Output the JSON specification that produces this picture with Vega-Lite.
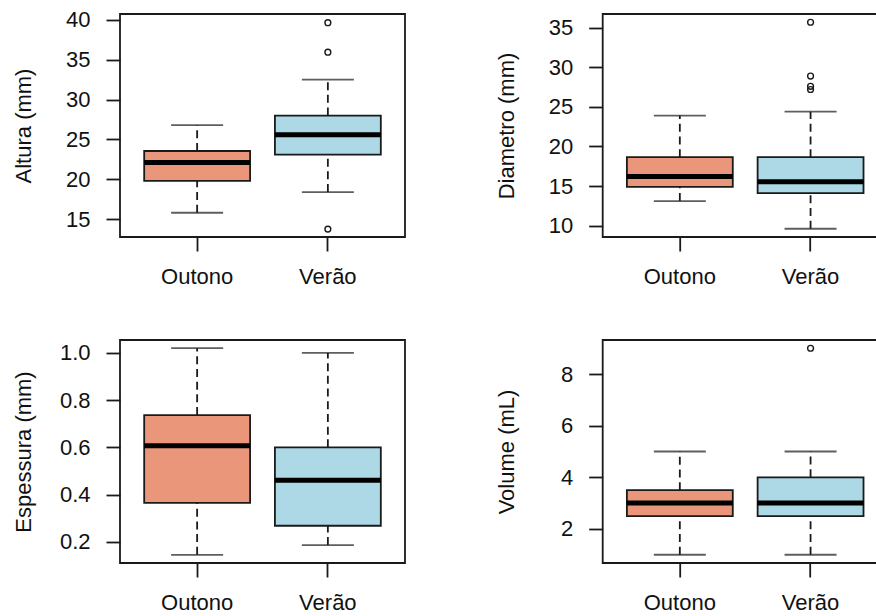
{
  "$schema": "https://vega.github.io/schema/vega-lite/v6.json",
  "padding": {"left": 11, "top": 7, "right": 5, "bottom": 0},
  "background": "white",
  "datasets": {
    "caixas": [
      {"variavel": "Altura", "estacao": "Outono", "inferior": 15.8, "q1": 19.8, "mediana": 22.1, "q3": 23.55, "superior": 26.8},
      {"variavel": "Altura", "estacao": "Verão", "inferior": 18.4, "q1": 23.1, "mediana": 25.6, "q3": 28.0, "superior": 32.5},
      {"variavel": "Diametro", "estacao": "Outono", "inferior": 13.1, "q1": 14.9, "mediana": 16.2, "q3": 18.65, "superior": 23.9},
      {"variavel": "Diametro", "estacao": "Verão", "inferior": 9.6, "q1": 14.1, "mediana": 15.55, "q3": 18.65, "superior": 24.4},
      {"variavel": "Espessura", "estacao": "Outono", "inferior": 0.145, "q1": 0.365, "mediana": 0.607, "q3": 0.737, "superior": 1.02},
      {"variavel": "Espessura", "estacao": "Verão", "inferior": 0.186, "q1": 0.268, "mediana": 0.461, "q3": 0.6, "superior": 1.0},
      {"variavel": "Volume", "estacao": "Outono", "inferior": 1, "q1": 2.5, "mediana": 3, "q3": 3.5, "superior": 5},
      {"variavel": "Volume", "estacao": "Verão", "inferior": 1, "q1": 2.5, "mediana": 3, "q3": 4, "superior": 5}
    ],
    "atipicos": [
      {"variavel": "Altura", "estacao": "Verão", "valor": 39.65},
      {"variavel": "Altura", "estacao": "Verão", "valor": 35.95},
      {"variavel": "Altura", "estacao": "Verão", "valor": 13.75},
      {"variavel": "Diametro", "estacao": "Verão", "valor": 35.7},
      {"variavel": "Diametro", "estacao": "Verão", "valor": 28.9},
      {"variavel": "Diametro", "estacao": "Verão", "valor": 27.6},
      {"variavel": "Diametro", "estacao": "Verão", "valor": 27.2},
      {"variavel": "Volume", "estacao": "Verão", "valor": 9}
    ]
  },
  "columns": 2,
  "spacing": {"row": 103, "column": 197.7},
  "bounds": "flush",
  "concat": [
    {
      "width": 285, "height": 223,
      "encoding": {
        "x": {"field": "estacao", "type": "nominal", "sort": ["Outono", "Verão"], "scale": {"type": "band", "paddingInner": 0.19, "paddingOuter": 0.185}},
        "color": {"field": "estacao", "type": "nominal", "legend": null, "scale": {"domain": ["Outono", "Verão"], "range": ["#E9967A", "#ADD8E6"]}}
      },
      "layer": [
        {"data": {"name": "caixas"}, "transform": [{"filter": "datum.variavel === 'Altura'"}],
         "mark": {"type": "rule", "strokeWidth": 1.8, "strokeDash": [8, 4.7]},
         "encoding": {"y": {"field": "q3", "type": "quantitative", "title": "Altura (mm)", "scale": {"domain": [12.76, 40.74], "nice": false, "zero": false}, "axis": {"values": [15, 20, 25, 30, 35, 40]}}, "y2": {"field": "superior"}, "color": {"value": "#1a1a1a"}}},
        {"data": {"name": "caixas"}, "transform": [{"filter": "datum.variavel === 'Altura'"}],
         "mark": {"type": "rule", "strokeWidth": 1.8, "strokeDash": [8, 4.7]},
         "encoding": {"y": {"field": "inferior", "type": "quantitative"}, "y2": {"field": "q1"}, "color": {"value": "#1a1a1a"}}},
        {"data": {"name": "caixas"}, "transform": [{"filter": "datum.variavel === 'Altura'"}],
         "mark": {"type": "tick", "size": 52, "thickness": 1.8},
         "encoding": {"y": {"field": "superior", "type": "quantitative"}, "color": {"value": "#1a1a1a"}}},
        {"data": {"name": "caixas"}, "transform": [{"filter": "datum.variavel === 'Altura'"}],
         "mark": {"type": "tick", "size": 52, "thickness": 1.8},
         "encoding": {"y": {"field": "inferior", "type": "quantitative"}, "color": {"value": "#1a1a1a"}}},
        {"data": {"name": "caixas"}, "transform": [{"filter": "datum.variavel === 'Altura'"}],
         "mark": {"type": "bar", "stroke": "#1a1a1a", "strokeWidth": 1.8, "opacity": 1},
         "encoding": {"y": {"field": "q1", "type": "quantitative"}, "y2": {"field": "q3"}}},
        {"data": {"name": "caixas"}, "transform": [{"filter": "datum.variavel === 'Altura'"}],
         "mark": {"type": "tick", "size": 106, "thickness": 5, "opacity": 1},
         "encoding": {"y": {"field": "mediana", "type": "quantitative"}, "color": {"value": "black"}}},
        {"data": {"name": "atipicos"}, "transform": [{"filter": "datum.variavel === 'Altura'"}],
         "mark": {"type": "point", "shape": "circle", "filled": false, "size": 34, "strokeWidth": 1.4, "opacity": 1},
         "encoding": {"y": {"field": "valor", "type": "quantitative"}, "color": {"value": "#1a1a1a"}}}
      ]
    },
    {
      "width": 285, "height": 223,
      "encoding": {
        "x": {"field": "estacao", "type": "nominal", "sort": ["Outono", "Verão"], "scale": {"type": "band", "paddingInner": 0.19, "paddingOuter": 0.185}},
        "color": {"field": "estacao", "type": "nominal", "legend": null, "scale": {"domain": ["Outono", "Verão"], "range": ["#E9967A", "#ADD8E6"]}}
      },
      "layer": [
        {"data": {"name": "caixas"}, "transform": [{"filter": "datum.variavel === 'Diametro'"}],
         "mark": {"type": "rule", "strokeWidth": 1.8, "strokeDash": [8, 4.7]},
         "encoding": {"y": {"field": "q3", "type": "quantitative", "title": "Diametro (mm)", "scale": {"domain": [8.556, 36.744], "nice": false, "zero": false}, "axis": {"values": [10, 15, 20, 25, 30, 35]}}, "y2": {"field": "superior"}, "color": {"value": "#1a1a1a"}}},
        {"data": {"name": "caixas"}, "transform": [{"filter": "datum.variavel === 'Diametro'"}],
         "mark": {"type": "rule", "strokeWidth": 1.8, "strokeDash": [8, 4.7]},
         "encoding": {"y": {"field": "inferior", "type": "quantitative"}, "y2": {"field": "q1"}, "color": {"value": "#1a1a1a"}}},
        {"data": {"name": "caixas"}, "transform": [{"filter": "datum.variavel === 'Diametro'"}],
         "mark": {"type": "tick", "size": 52, "thickness": 1.8},
         "encoding": {"y": {"field": "superior", "type": "quantitative"}, "color": {"value": "#1a1a1a"}}},
        {"data": {"name": "caixas"}, "transform": [{"filter": "datum.variavel === 'Diametro'"}],
         "mark": {"type": "tick", "size": 52, "thickness": 1.8},
         "encoding": {"y": {"field": "inferior", "type": "quantitative"}, "color": {"value": "#1a1a1a"}}},
        {"data": {"name": "caixas"}, "transform": [{"filter": "datum.variavel === 'Diametro'"}],
         "mark": {"type": "bar", "stroke": "#1a1a1a", "strokeWidth": 1.8, "opacity": 1},
         "encoding": {"y": {"field": "q1", "type": "quantitative"}, "y2": {"field": "q3"}}},
        {"data": {"name": "caixas"}, "transform": [{"filter": "datum.variavel === 'Diametro'"}],
         "mark": {"type": "tick", "size": 106, "thickness": 5, "opacity": 1},
         "encoding": {"y": {"field": "mediana", "type": "quantitative"}, "color": {"value": "black"}}},
        {"data": {"name": "atipicos"}, "transform": [{"filter": "datum.variavel === 'Diametro'"}],
         "mark": {"type": "point", "shape": "circle", "filled": false, "size": 34, "strokeWidth": 1.4, "opacity": 1},
         "encoding": {"y": {"field": "valor", "type": "quantitative"}, "color": {"value": "#1a1a1a"}}}
      ]
    },
    {
      "width": 285, "height": 223,
      "encoding": {
        "x": {"field": "estacao", "type": "nominal", "sort": ["Outono", "Verão"], "scale": {"type": "band", "paddingInner": 0.19, "paddingOuter": 0.185}},
        "color": {"field": "estacao", "type": "nominal", "legend": null, "scale": {"domain": ["Outono", "Verão"], "range": ["#E9967A", "#ADD8E6"]}}
      },
      "layer": [
        {"data": {"name": "caixas"}, "transform": [{"filter": "datum.variavel === 'Espessura'"}],
         "mark": {"type": "rule", "strokeWidth": 1.8, "strokeDash": [8, 4.7]},
         "encoding": {"y": {"field": "q3", "type": "quantitative", "title": "Espessura (mm)", "scale": {"domain": [0.1102, 1.0548], "nice": false, "zero": false}, "axis": {"values": [0.2, 0.4, 0.6, 0.8, 1.0], "format": ".1f"}}, "y2": {"field": "superior"}, "color": {"value": "#1a1a1a"}}},
        {"data": {"name": "caixas"}, "transform": [{"filter": "datum.variavel === 'Espessura'"}],
         "mark": {"type": "rule", "strokeWidth": 1.8, "strokeDash": [8, 4.7]},
         "encoding": {"y": {"field": "inferior", "type": "quantitative"}, "y2": {"field": "q1"}, "color": {"value": "#1a1a1a"}}},
        {"data": {"name": "caixas"}, "transform": [{"filter": "datum.variavel === 'Espessura'"}],
         "mark": {"type": "tick", "size": 52, "thickness": 1.8},
         "encoding": {"y": {"field": "superior", "type": "quantitative"}, "color": {"value": "#1a1a1a"}}},
        {"data": {"name": "caixas"}, "transform": [{"filter": "datum.variavel === 'Espessura'"}],
         "mark": {"type": "tick", "size": 52, "thickness": 1.8},
         "encoding": {"y": {"field": "inferior", "type": "quantitative"}, "color": {"value": "#1a1a1a"}}},
        {"data": {"name": "caixas"}, "transform": [{"filter": "datum.variavel === 'Espessura'"}],
         "mark": {"type": "bar", "stroke": "#1a1a1a", "strokeWidth": 1.8, "opacity": 1},
         "encoding": {"y": {"field": "q1", "type": "quantitative"}, "y2": {"field": "q3"}}},
        {"data": {"name": "caixas"}, "transform": [{"filter": "datum.variavel === 'Espessura'"}],
         "mark": {"type": "tick", "size": 106, "thickness": 5, "opacity": 1},
         "encoding": {"y": {"field": "mediana", "type": "quantitative"}, "color": {"value": "black"}}}
      ]
    },
    {
      "width": 285, "height": 223,
      "encoding": {
        "x": {"field": "estacao", "type": "nominal", "sort": ["Outono", "Verão"], "scale": {"type": "band", "paddingInner": 0.19, "paddingOuter": 0.185}},
        "color": {"field": "estacao", "type": "nominal", "legend": null, "scale": {"domain": ["Outono", "Verão"], "range": ["#E9967A", "#ADD8E6"]}}
      },
      "layer": [
        {"data": {"name": "caixas"}, "transform": [{"filter": "datum.variavel === 'Volume'"}],
         "mark": {"type": "rule", "strokeWidth": 1.8, "strokeDash": [8, 4.7]},
         "encoding": {"y": {"field": "q3", "type": "quantitative", "title": "Volume (mL)", "scale": {"domain": [0.68, 9.32], "nice": false, "zero": false}, "axis": {"values": [2, 4, 6, 8]}}, "y2": {"field": "superior"}, "color": {"value": "#1a1a1a"}}},
        {"data": {"name": "caixas"}, "transform": [{"filter": "datum.variavel === 'Volume'"}],
         "mark": {"type": "rule", "strokeWidth": 1.8, "strokeDash": [8, 4.7]},
         "encoding": {"y": {"field": "inferior", "type": "quantitative"}, "y2": {"field": "q1"}, "color": {"value": "#1a1a1a"}}},
        {"data": {"name": "caixas"}, "transform": [{"filter": "datum.variavel === 'Volume'"}],
         "mark": {"type": "tick", "size": 52, "thickness": 1.8},
         "encoding": {"y": {"field": "superior", "type": "quantitative"}, "color": {"value": "#1a1a1a"}}},
        {"data": {"name": "caixas"}, "transform": [{"filter": "datum.variavel === 'Volume'"}],
         "mark": {"type": "tick", "size": 52, "thickness": 1.8},
         "encoding": {"y": {"field": "inferior", "type": "quantitative"}, "color": {"value": "#1a1a1a"}}},
        {"data": {"name": "caixas"}, "transform": [{"filter": "datum.variavel === 'Volume'"}],
         "mark": {"type": "bar", "stroke": "#1a1a1a", "strokeWidth": 1.8, "opacity": 1},
         "encoding": {"y": {"field": "q1", "type": "quantitative"}, "y2": {"field": "q3"}}},
        {"data": {"name": "caixas"}, "transform": [{"filter": "datum.variavel === 'Volume'"}],
         "mark": {"type": "tick", "size": 106, "thickness": 5, "opacity": 1},
         "encoding": {"y": {"field": "mediana", "type": "quantitative"}, "color": {"value": "black"}}},
        {"data": {"name": "atipicos"}, "transform": [{"filter": "datum.variavel === 'Volume'"}],
         "mark": {"type": "point", "shape": "circle", "filled": false, "size": 34, "strokeWidth": 1.4, "opacity": 1},
         "encoding": {"y": {"field": "valor", "type": "quantitative"}, "color": {"value": "#1a1a1a"}}}
      ]
    }
  ],
  "config": {
    "font": "Liberation Sans",
    "view": {"stroke": "#1a1a1a", "strokeWidth": 1.8},
    "axis": {
      "labelFont": "Liberation Sans", "labelFontSize": 22, "labelColor": "#111111",
      "titleFont": "Liberation Sans", "titleFontSize": 22, "titleFontWeight": "normal", "titleColor": "#111111",
      "tickColor": "#1a1a1a", "tickSize": 14, "tickWidth": 1.8,
      "domain": false, "grid": false
    },
    "axisX": {"labelAngle": 0, "labelPadding": 15, "title": null},
    "axisY": {"labelPadding": 16, "titleX": -89.5, "titleBaseline": "alphabetic", "titleAngle": 270}
  }
}
